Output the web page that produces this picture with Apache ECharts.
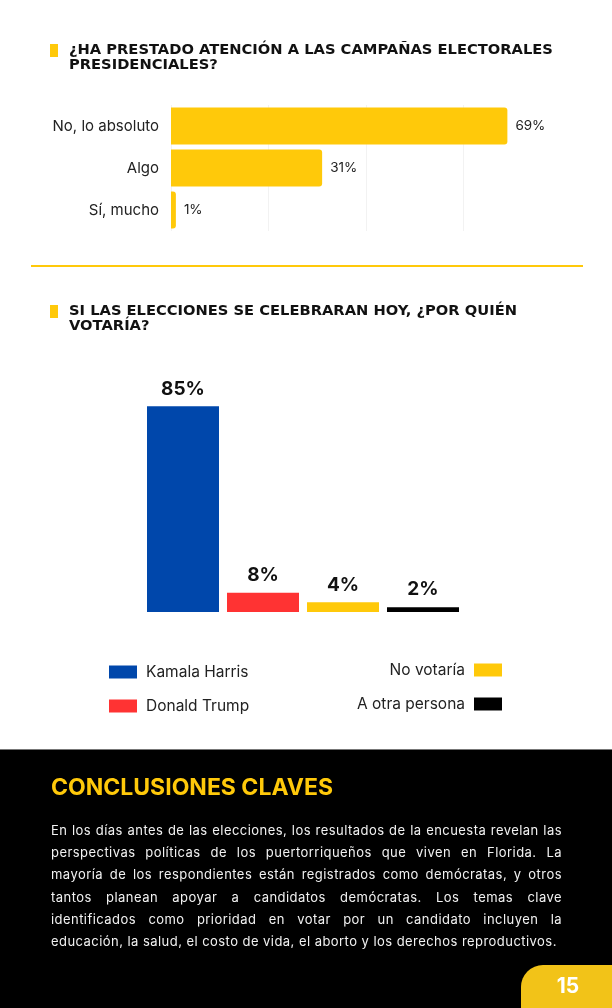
<!DOCTYPE html>
<html>
<head>
<meta charset="utf-8">
<script src="https://cdn.jsdelivr.net/npm/echarts@6/dist/echarts.min.js"></script>
<style>
  html, body { margin: 0; padding: 0; background: #fff; }
  #page { position: relative; width: 612px; height: 1008px; overflow: hidden; }
  #main { position: absolute; left: 0; top: 0; width: 612px; height: 1008px; }
  #texto {
    position: absolute; left: 51px; top: 819px; width: 511px;
    color: #f2f2f2; font-family: Inter, sans-serif; font-size: 13px;
    line-height: 22.2px; letter-spacing: 0.45px;
  }
  #texto div { text-align: justify; text-align-last: justify; white-space: nowrap; }
  #texto div:last-child { text-align-last: left; }
</style>
</head>
<body>
<div id="page">
  <div id="main"></div>
  <div id="texto"></div>
</div>
<script>
// pregunta 1
const atencionCats = ['No, lo absoluto', 'Algo', 'Sí, mucho'];
const atencionVals = [69, 31, 1];

// pregunta 2
const votoCats = ['Kamala Harris', 'Donald Trump', 'No votaría', 'A otra persona'];
const votoVals = [85, 8, 4, 2];
const votoColors = ['#0047AB', '#FF3333', '#FFC90A', '#000000'];

// texto de conclusiones, una entrada por linea
const conclusiones = [
  'En los días antes de las elecciones, los resultados de la encuesta revelan las',
  'perspectivas políticas de los puertorriqueños que viven en Florida. La',
  'mayoría de los respondientes están registrados como demócratas, y otros',
  'tantos planean apoyar a candidatos demócratas. Los temas clave',
  'identificados como prioridad en votar por un candidato incluyen la',
  'educación, la salud, el costo de vida, el aborto y los derechos reproductivos.'
];

const amarillo = '#FFC90A';
const fuente = 'Inter, sans-serif';
const fuenteTitulo = '"DejaVu Sans", sans-serif';

const texto = document.getElementById('texto');
conclusiones.forEach(l => {
  const d = document.createElement('div');
  d.textContent = l;
  texto.appendChild(d);
});

const chart = echarts.init(document.getElementById('main'), null, { renderer: 'canvas' });

// una serie por candidato para que la leyenda funcione
const votoSeries = votoCats.map((name, i) => ({
  name: name,
  type: 'bar',
  xAxisIndex: 1,
  yAxisIndex: 1,
  barWidth: 72,
  barGap: '-100%',
  itemStyle: { color: votoColors[i] },
  label: {
    show: true,
    position: 'top',
    distance: 8,
    formatter: '{c}%',
    fontFamily: fuente,
    fontWeight: 'bold',
    fontSize: 19,
    color: '#111'
  },
  data: votoVals.map((v, j) => (j === i ? v : null))
}));

const option = {
  animation: false,
  textStyle: { fontFamily: fuente },
  grid: [
    { left: 171, right: 51, top: 105, height: 126 },
    { left: 143, width: 320, top: 370, height: 242 }
  ],
  xAxis: [
    {
      gridIndex: 0, type: 'value', min: 0, max: 80, interval: 20,
      axisLabel: { show: false }, axisLine: { show: false }, axisTick: { show: false },
      splitLine: { showMaxLine: false, lineStyle: { color: '#f2f2f2' } }
    },
    {
      gridIndex: 1, type: 'category', data: votoCats,
      axisLabel: { show: false }, axisLine: { show: false }, axisTick: { show: false }
    }
  ],
  yAxis: [
    {
      gridIndex: 0, type: 'category', data: atencionCats, inverse: true,
      axisLine: { show: false }, axisTick: { show: false },
      axisLabel: { margin: 12, fontSize: 15, color: '#222', fontFamily: fuente }
    },
    {
      gridIndex: 1, type: 'value', min: 0, max: 100,
      show: false, splitLine: { show: false }
    }
  ],
  legend: [
    {
      data: ['Kamala Harris', 'Donald Trump'],
      orient: 'vertical', left: 109, top: 664, padding: 0,
      icon: 'rect', itemWidth: 28, itemHeight: 13, itemGap: 18,
      selectedMode: false,
      textStyle: { fontSize: 15.5, color: '#222', fontFamily: fuente, padding: [0, 0, 0, 4] }
    },
    {
      data: ['No votaría', 'A otra persona'],
      orient: 'vertical', right: 110, top: 662, padding: 0, align: 'right',
      icon: 'rect', itemWidth: 28, itemHeight: 13, itemGap: 18,
      selectedMode: false,
      textStyle: { fontSize: 15.5, color: '#222', fontFamily: fuente, padding: [0, 4, 0, 0] }
    }
  ],
  series: [
    {
      name: 'Atención',
      type: 'bar',
      xAxisIndex: 0,
      yAxisIndex: 0,
      barWidth: 37,
      itemStyle: { color: amarillo, borderRadius: [0, 3, 3, 0] },
      label: {
        show: true, position: 'right', distance: 8, formatter: '{c}%',
        fontSize: 13.5, color: '#222', fontFamily: fuente
      },
      data: atencionVals
    }
  ].concat(votoSeries),
  graphic: [
    // titulo 1
    { type: 'rect', shape: { x: 50, y: 44, width: 8, height: 13 }, style: { fill: amarillo } },
    {
      type: 'text', left: 69, top: 43,
      style: {
        text: '¿HA PRESTADO ATENCIÓN A LAS CAMPAÑAS ELECTORALES\nPRESIDENCIALES?',
        font: 'bold 14.7px ' + fuenteTitulo, fill: '#111', lineHeight: 14.5
      }
    },
    // separador
    { type: 'rect', shape: { x: 31, y: 265, width: 552, height: 2 }, style: { fill: amarillo } },
    // titulo 2
    { type: 'rect', shape: { x: 50, y: 305, width: 8, height: 13 }, style: { fill: amarillo } },
    {
      type: 'text', left: 69, top: 304,
      style: {
        text: 'SI LAS ELECCIONES SE CELEBRARAN HOY, ¿POR QUIÉN\nVOTARÍA?',
        font: 'bold 14.7px ' + fuenteTitulo, fill: '#111', lineHeight: 14.5
      }
    },
    // bloque negro
    { type: 'rect', shape: { x: 0, y: 750, width: 612, height: 258 }, style: { fill: '#000' }, z: -1 },
    { type: 'rect', shape: { x: 0, y: 749, width: 612, height: 1 }, style: { fill: '#777' } },
    {
      type: 'text', left: 51, top: 777,
      style: { text: 'CONCLUSIONES CLAVES', font: 'bold 23px ' + fuente, fill: amarillo }
    },
    // numero de pagina
    { type: 'rect', shape: { x: 521, y: 965, width: 110, height: 60, r: [22, 0, 0, 0] }, style: { fill: '#F2C318' } },
    {
      type: 'text', x: 568, y: 987,
      style: { text: '15', font: 'bold 21px ' + fuente, fill: '#fff', align: 'center', verticalAlign: 'middle' }
    }
  ]
};

chart.setOption(option);
</script>
</body>
</html>
